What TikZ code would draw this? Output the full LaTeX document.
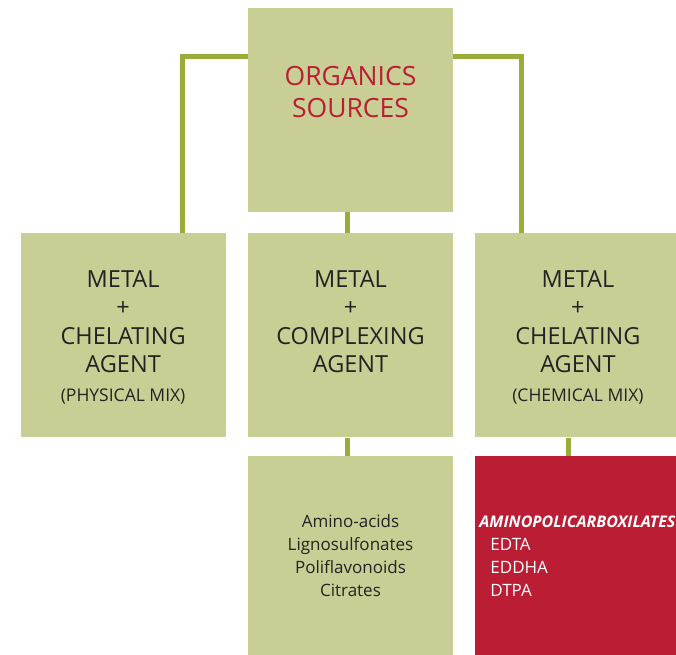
\documentclass[tikz,border=0pt]{standalone}
\usepackage{fontspec}
\setmainfont{Open Sans}
\usetikzlibrary{positioning,calc,backgrounds}
\definecolor{boxgreen}{RGB}{201,206,148}
\definecolor{linkgreen}{RGB}{155,172,58}
\definecolor{chelred}{RGB}{187,30,52}
\definecolor{inkgray}{RGB}{35,35,35}

\begin{document}
\begin{tikzpicture}[x=1pt, y=-1pt,
    box/.style={rectangle, fill=#1, minimum width=205pt, minimum height=204pt, inner sep=0pt},
    box/.default=boxgreen,
    link/.style={draw=linkgreen, line width=5pt},
    headtxt/.style={font=\fontsize{26.5}{32}\selectfont, text=chelred, align=center, inner sep=0pt},
    rowtxt/.style={font=\fontsize{23.5}{28.5}\selectfont, text=inkgray, align=center, inner sep=0pt},
    listtxt/.style={font=\fontsize{17}{23}\selectfont, text=#1, inner sep=0pt},
    listtxt/.default=inkgray,
]
\clip (0,0) rectangle (676,654);

% Top
\node[box] (orgsrc) at (350.5,110) {};
\node[headtxt, below=58pt of orgsrc.north] (orgsrc_txt) {ORGANICS\\SOURCES};

% Middle row
\node[box, below=21pt of orgsrc] (complex) {};
\node[box, left=22pt of complex] (physmix) {};
\node[box, right=22pt of complex] (chemmix) {};
\node[rowtxt, below=37pt of physmix.north] (physmix_txt) {METAL\\+\\CHELATING\\AGENT\\{\fontsize{17.5}{27}\selectfont (PHYSICAL MIX)}};
\node[rowtxt, below=37pt of complex.north] (complex_txt) {METAL\\+\\COMPLEXING\\AGENT};
\node[rowtxt, below=37pt of chemmix.north] (chemmix_txt) {METAL\\+\\CHELATING\\AGENT\\{\fontsize{17.5}{27}\selectfont (CHEMICAL MIX)}};

% Bottom row
\node[box, minimum height=200pt, below=18pt of complex] (ligands) {};
\node[box=chelred, minimum height=200pt, below=18pt of chemmix] (aminopoli) {};
\node[listtxt, align=center] at (ligands.center) (ligands_txt) {Amino-acids\\Lignosulfonates\\Poliflavonoids\\Citrates};
\node[listtxt=white, align=left, anchor=west, xshift=4pt] at (aminopoli.west) (aminopoli_txt)
    {{\fontsize{16}{23}\selectfont\bfseries\itshape AMINOPOLICARBOXILATES}\\\hspace*{11pt}EDTA\\\hspace*{11pt}EDDHA\\\hspace*{11pt}DTPA};

% Connectors
\begin{scope}[on background layer]
\draw[link] ($(physmix.north west)!0.79!(physmix.north east)$) |- ($(orgsrc.north)+(0,49)$)
    -| ($(chemmix.north west)!0.224!(chemmix.north east)$);
\draw[link] ($(orgsrc.south)+(-3.5,0)$) -- ($(complex.north)+(-3.5,0)$);
\draw[link] ($(complex.south)+(-3.5,0)$) -- ($(ligands.north)+(-3.5,0)$);
\draw[link] ($(chemmix.south)+(-9.5,0)$) -- ($(aminopoli.north)+(-9.5,0)$);
\end{scope}
\end{tikzpicture}
\end{document}
